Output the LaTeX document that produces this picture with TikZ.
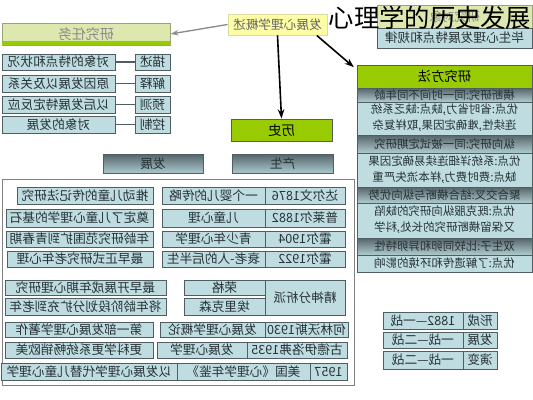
\documentclass[tikz,border=0pt]{standalone}
\usepackage{fontspec}
\setmainfont{Noto Sans CJK SC}
\usepackage{graphicx}
\usetikzlibrary{arrows.meta}
\definecolor{bordc}{HTML}{4F5E63}
\definecolor{cellc}{HTML}{BFDDE1}
\definecolor{txtc}{HTML}{263235}
\definecolor{greenh}{HTML}{99CC00}
\definecolor{lgreen}{HTML}{DCE8AE}
\definecolor{yelc}{HTML}{FDFDA6}
\definecolor{yelb}{HTML}{DCDCA0}
\definecolor{darkg}{HTML}{56656A}
\definecolor{hdrtop}{HTML}{56666B}
\definecolor{hdrbot}{HTML}{A9C6CC}
\newcommand\mt[1]{\reflectbox{#1}}
\newcommand\bx[7][cell]{\node[#1,minimum width={(#5-#3)*0.75pt},minimum height={(#6-#4)*0.75pt}] (#2) at ({(#3+#5)/2},{(#4+#6)/2}) {\mt{#7}};}
\newcommand\twol[2]{\begin{tabular}{@{}c@{}}#1\\#2\end{tabular}}
\tikzset{
  cell/.style={draw=bordc, fill=cellc, line width=0.7pt, inner sep=0pt, text=txtc, font=\fontsize{9.5}{11}\selectfont},
  mcell/.style={cell, font=\fontsize{8.6}{12}\selectfont},
  dark/.style={mcell, top color=darkg, bottom color=cellc!85!darkg},
  head/.style={cell, fill=greenh, text=black, font=\fontsize{10}{12}\selectfont},
  hdr/.style={cell, top color=hdrtop, bottom color=hdrbot, text=txtc},
  yel/.style={cell, draw=yelb, fill=yelc, text=black!60},
  lg/.style={cell, draw=lgreen!70!black, fill=lgreen, text=black!45},
  conn/.style={draw=bordc, line width=0.8pt},
  arr/.style={-{Stealth[length=7pt,width=5pt]}, line width=1.2pt, black},
  garr/.style={-{Stealth[length=6pt,width=4pt]}, line width=1pt, black!45},
  frame/.style={draw=black!50, line width=0.7pt}
}
\begin{document}
\begin{tikzpicture}[x=0.75pt,y=-0.75pt]
\useasboundingbox[fill=white] (0,0) rectangle (533,400);
% research tasks
\node[lg, minimum width={168*0.75pt}, minimum height={22*0.75pt}, text=black!45, font=\fontsize{10.5}{12}\selectfont] (rw) at (86,34) {\mt{研究任务}};
\fill[greenh] (rw.south west) rectangle ([yshift=3pt]rw.south east);
\bx{t1a}{2}{54}{115}{70}{对象的特点和状况}
\bx{t1b}{135}{54}{170}{70}{描述}
\bx{t2a}{2}{75}{115}{92}{原因发展以及关系}
\bx{t2b}{135}{75}{170}{92}{解释}
\bx{t3a}{2}{96}{115}{113}{以后发展特定反应}
\bx{t3b}{135}{96}{170}{113}{预测}
\bx{t4a}{2}{116}{115}{133}{对象的发展}
\bx{t4b}{135}{116}{170}{133}{控制}
\draw[conn] (t1a) -- (t1b);
\draw[conn] (t2a) -- (t2b);
\draw[conn] (t3a) -- (t3b);
\draw[conn] (t4a) -- (t4b);
% centre
\bx[yel]{gs}{228}{14}{327}{35}{发展心理学概述}
\bx[lg]{obj}{377}{5}{532}{28}{研究对象}
\bx{objd}{377}{28}{532}{48}{毕生心理发展特点和规律}
\node[font=\fontsize{19}{20}\selectfont, text=black, inner sep=0pt] (title) at (430,18) {心理学的历史发展};
\bx[head]{hist}{231}{119}{332}{141}{历史}
\draw[garr] (gs.west) -- (rw.east);
\draw[arr] (gs.south) -- (hist.north);
% research methods
\bx[head]{meth}{357}{65}{532}{88}{研究方法}
\draw[arr] ([xshift=-8pt]gs.south east) -- ([xshift=-2pt,yshift=-2pt]meth.north west);
\bx[dark]{m1}{357}{88}{532}{102}{横断研究:同一时间不同年龄}
\bx[mcell]{m2}{357}{102}{532}{135}{\twol{优点:省时省力,缺点:缺乏系统}{连续性,难确定因果,取样复杂}}
\bx[dark]{m3}{357}{135}{532}{153}{纵向研究:同一被试定期研究}
\bx[mcell]{m4}{357}{153}{532}{187}{\twol{优点:系统详细连续易确定因果}{缺点:费时费力,样本流失严重}}
\bx[dark]{m5}{357}{187}{532}{203}{聚合交叉:结合横断与纵向优势}
\bx[mcell]{m6}{357}{203}{532}{238}{\twol{优点:既克服纵向研究的缺陷}{又保留横断研究的长处,科学}}
\bx[dark]{m7}{357}{238}{532}{255}{双生子:比较同卵和异卵特性}
\bx[mcell]{m8}{357}{255}{532}{272}{优点:了解遗传和环境的影响}
% history frame
\bx[hdr]{fz}{103}{154}{203}{173}{发展}
\bx[hdr]{cs}{232}{154}{333}{173}{产生}
\draw[frame] (2,179) rectangle (354,385);
\bx{r1a}{17}{187}{153}{204}{推动儿童的传记法研究}
\bx{r1b}{162}{187}{265}{204}{一个婴儿的传略}
\bx{r1c}{265}{187}{345}{204}{达尔文1876}
\bx{r2a}{6}{209}{153}{227}{奠定了儿童心理学的基石}
\bx{r2b}{162}{209}{265}{227}{儿童心理}
\bx{r2c}{265}{209}{345}{227}{普莱尔1882}
\bx{r3a}{6}{231}{153}{247}{年龄研究范围扩到青春期}
\bx{r3b}{162}{231}{265}{247}{青少年心理学}
\bx{r3c}{265}{231}{345}{247}{霍尔1904}
\bx{r4a}{7}{251}{153}{267}{最早正式研究老年心理}
\bx{r4b}{162}{251}{265}{267}{衰老-人的后半生}
\bx{r4c}{265}{251}{345}{267}{霍尔1922}
\bx{r5a}{5}{280}{166}{295}{最早开展成年期心理研究}
\bx{r5b}{184}{280}{265}{295}{荣格}
\bx{r6a}{5}{298}{166}{315}{将年龄阶段划分扩充到老年}
\bx{r6b}{184}{298}{265}{315}{埃里克森}
\bx{r56c}{265}{280}{345}{315}{精神分析派}
\bx{r7a}{5}{322}{153}{337}{第一部发展心理学著作}
\bx{r7b}{160}{322}{265}{337}{发展心理学概论}
\bx{r7c}{265}{322}{348}{337}{何林沃斯1930}
\bx{r8a}{5}{342}{153}{358}{更科学更系统畅销欧美}
\bx{r8b}{157}{342}{247}{358}{发展心理学}
\bx{r8c}{247}{342}{347}{358}{古德伊洛弗1935}
\bx{r9a}{1}{363}{177}{380}{以发展心理学代替儿童心理学}
\bx{r9b}{177}{363}{310}{380}{美国《心理学年鉴》}
\bx{r9c}{310}{363}{347}{380}{1957}
% periods
\bx{p1a}{383}{312}{463}{329}{1882—一战}
\bx{p1b}{463}{312}{497}{329}{形成}
\bx{p2a}{383}{332}{463}{348}{一战—二战}
\bx{p2b}{463}{332}{497}{348}{发展}
\bx{p3a}{383}{351}{463}{369}{一战—二战}
\bx{p3b}{463}{351}{497}{369}{演变}
\end{tikzpicture}
\end{document}
